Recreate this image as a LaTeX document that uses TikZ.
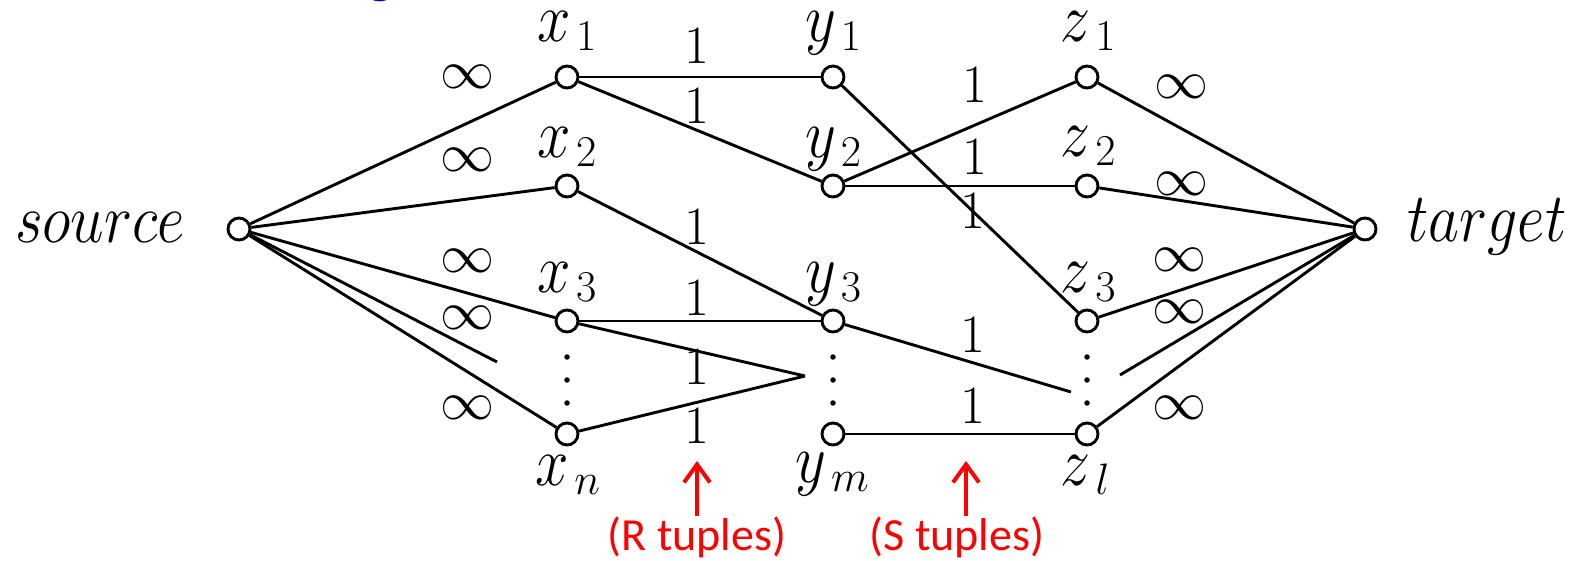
\RequirePackage{fix-cm}
\documentclass[tikz,border=0pt]{standalone}
\usepackage{fontspec}
\usepackage{graphicx}
\usetikzlibrary{arrows.meta}
\newfontfamily\calibri{Carlito}
\definecolor{titleblue}{RGB}{0,0,210}
\newcommand\vstretch[1]{\scalebox{1}[1.16]{#1}}
\newcommand\vlab[2]{\scalebox{1}[1.16]{$#1$}\kern5pt\raisebox{-9pt}{\fontsize{44}{50}\selectfont$#2$}}
\begin{document}
\begin{tikzpicture}[x=1pt,y=-1pt,
  vtx/.style={circle, draw, line width=2.9pt, minimum size=22pt, inner sep=0pt},
  nlab/.style={anchor=base, inner sep=0pt, font=\fontsize{60}{72}\selectfont},
  elab/.style={inner sep=0pt, font=\fontsize{54}{64}\selectfont},
  edge/.style={line width=2.9pt},
  dotm/.style={circle, fill, inner sep=0pt, minimum size=5.5pt},
  rlab/.style={anchor=base, inner sep=0pt, text=red, font=\calibri\fontsize{46}{55}\selectfont},
  redarrow/.style={draw=red, line width=4pt, -{Straight Barb[length=18pt,width=26pt]}}]
\useasboundingbox (0,0) rectangle (1583,561);
% cut title
\node[anchor=base, inner sep=0pt, text=titleblue, font=\calibri\fontsize{60}{72}\selectfont] (ttl) at (381,-8) {g};
% vertices
\node[vtx] (S) at (239,229) {};
\node[vtx] (T) at (1365,229) {};
\node[vtx] (x1) at (567,77) {};
\node[vtx] (x2) at (567,186) {};
\node[vtx] (x3) at (567,321) {};
\node[vtx] (xn) at (567,434) {};
\node[vtx] (y1) at (833,77) {};
\node[vtx] (y2) at (833,186) {};
\node[vtx] (y3) at (833,321) {};
\node[vtx] (ym) at (833,434) {};
\node[vtx] (z1) at (1087,77) {};
\node[vtx] (z2) at (1087,186) {};
\node[vtx] (z3) at (1087,321) {};
\node[vtx] (zl) at (1087,434) {};
% dots
\foreach \c in {567,833,1087}{
  \node[dotm] (d1-\c) at (\c,357) {};
  \node[dotm] (d2-\c) at (\c,380) {};
  \node[dotm] (d3-\c) at (\c,403) {};
}
% stub ends
\coordinate (sstub) at (497,362);
\coordinate (xstub) at (805,376);
\coordinate (ystub) at (1071,392);
\coordinate (tstub) at (1120,375);
% edges
\draw[edge] (S) -- (x1);
\draw[edge] (S) -- (x2);
\draw[edge] (S) -- (x3);
\draw[edge] (S) -- (xn);
\draw[edge] (S) -- (sstub);
\draw[edge] (x1) -- (y1);
\draw[edge] (x1) -- (y2);
\draw[edge] (x2) -- (y3);
\draw[edge] (x3) -- (y3);
\draw[edge] (x3) -- (xstub);
\draw[edge] (xn) -- (xstub);
\draw[edge] (y1) -- (z3);
\draw[edge] (y2) -- (z1);
\draw[edge] (y2) -- (z2);
\draw[edge] (y3) -- (ystub);
\draw[edge] (ym) -- (zl);
\draw[edge] (z1) -- (T);
\draw[edge] (z2) -- (T);
\draw[edge] (z3) -- (T);
\draw[edge] (zl) -- (T);
\draw[edge] (T) -- (tstub);
% node labels
\node[nlab] (ls) at (100,243) {\vstretch{$source$}};
\node[nlab] (lt) at (1487,242) {\vstretch{$target$}};
\node[nlab] (lx1) at (567,42) {\vlab{x}{1}};
\node[nlab] (lx2) at (567,158) {\vlab{x}{2}};
\node[nlab] (lx3) at (567,293) {\vlab{x}{3}};
\node[nlab] (lxn) at (568,485) {\vlab{x}{n}};
\node[nlab] (ly1) at (833,42) {\vlab{y}{1}};
\node[nlab] (ly2) at (833,158) {\vlab{y}{2}};
\node[nlab] (ly3) at (833,293) {\vlab{y}{3}};
\node[nlab] (lym) at (832,482) {\vlab{y}{m}};
\node[nlab] (lz1) at (1088,42) {\vlab{z}{1}};
\node[nlab] (lz2) at (1088,157) {\vlab{z}{2}};
\node[nlab] (lz3) at (1088,293) {\vlab{z}{3}};
\node[nlab] (lzl) at (1085,485) {\vlab{z}{l}};
% infinity labels
\node[elab] (i1) at (467,77) {$\infty$};
\node[elab] (i2) at (467,160) {$\infty$};
\node[elab] (i3) at (467,261) {$\infty$};
\node[elab] (i4) at (467,318) {$\infty$};
\node[elab] (i5) at (467,408) {$\infty$};
\node[elab] (j1) at (1181,87) {$\infty$};
\node[elab] (j2) at (1181,184) {$\infty$};
\node[elab] (j3) at (1179,260) {$\infty$};
\node[elab] (j4) at (1179,312) {$\infty$};
\node[elab] (j5) at (1179,408) {$\infty$};
% unit labels
\node[elab] (a1) at (697,46) {$1$};
\node[elab] (a2) at (697,106) {$1$};
\node[elab] (a3) at (697,227) {$1$};
\node[elab] (a4) at (697,298) {$1$};
\node[elab] (a5) at (697,367) {$1$};
\node[elab] (a6) at (697,426) {$1$};
\node[elab] (b1) at (975,85) {$1$};
\node[elab] (b2) at (975,157) {$1$};
\node[elab] (b3) at (973,211) {$1$};
\node[elab] (b4) at (973,335) {$1$};
\node[elab] (b5) at (973,406) {$1$};
% red annotations
\node[rlab] (rt) at (697,550) {(R tuples)};
\node[rlab] (st) at (957,550) {(S tuples)};
\coordinate (ra) at (697,461);
\coordinate (sa) at (966,461);
\draw[redarrow] (rt.north) -- (ra);
\draw[redarrow] (st.north -| sa) -- (sa);
\end{tikzpicture}
\end{document}
